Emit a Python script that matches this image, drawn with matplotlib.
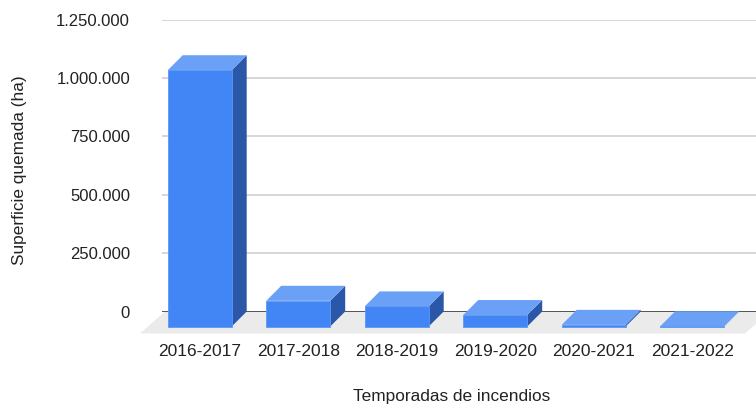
"""
Superficie quemada por temporada de incendios, barras con efecto 3D.
"""
import matplotlib
matplotlib.use("Agg")
import matplotlib.pyplot as plt
from matplotlib.patches import Polygon
from matplotlib.ticker import FuncFormatter

temporadas = ["2016-2017", "2017-2018", "2018-2019", "2019-2020", "2020-2021", "2021-2022"]
superficie_ha = [1097000, 110000, 86000, 49000, 7000, 1000]
yticks = [0, 250000, 500000, 750000, 1000000, 1250000]

FRONT = "#4285f4"
TOP = "#6aa0f6"
SIDE = "#2b57a8"
FLOOR = "#ebebeb"

W, H = 756, 412
plt.rcParams["font.family"] = ["Liberation Sans", "DejaVu Sans"]

fig = plt.figure(figsize=(W / 100, H / 100), dpi=100)
# plot area (back plane) in pixels
left_px, right_px, top_px, zero_px = 162, 756, 19.5, 311.5
ax = fig.add_axes([left_px / W, 1 - zero_px / H, (right_px - left_px) / W, (zero_px - top_px) / H])

cat0_px, cat_step = 214.7, 98.5
ax.set_xlim((left_px - cat0_px) / cat_step, (right_px - cat0_px) / cat_step)
ax.set_ylim(0, 1250000)
px_per_val = (zero_px - top_px) / 1250000

def dx(px):
    return px / cat_step

def dy(px):
    return px / px_per_val

depth = 15
bw = 64 / cat_step

for s in ax.spines.values():
    s.set_visible(False)
ax.set_yticks(yticks)
ax.yaxis.set_major_formatter(FuncFormatter(lambda v, p: f"{int(v):,}".replace(",", ".")))
ax.grid(axis="y", color="#cfcfcf", linewidth=1.2, zorder=0)
ax.tick_params(axis="y", length=0, pad=23, labelsize=12, labelcolor="#222222")

# floor
fl = Polygon([(dx(165 - cat0_px), 0), (dx(770 - cat0_px), 0),
              (dx(770 - cat0_px) - dx(25), -dy(22)), (dx(165 - cat0_px) - dx(25), -dy(22))],
             closed=True, facecolor=FLOOR, edgecolor="none", zorder=1, clip_on=False)
ax.add_patch(fl)
ax.axhline(0, color="#333333", linewidth=1.1, zorder=2)

for i, v in enumerate(superficie_ha):
    xl, xr = i - bw / 2, i + bw / 2
    ox, oy = dx(depth), dy(depth)
    side = Polygon([(xr - ox, -oy), (xr, 0), (xr, v), (xr - ox, v - oy)],
                   closed=True, facecolor=SIDE, edgecolor="none", zorder=3, clip_on=False)
    top = Polygon([(xl - ox, v - oy), (xr - ox, v - oy), (xr, v), (xl, v)],
                  closed=True, facecolor=TOP, edgecolor="none", zorder=3, clip_on=False)
    front = Polygon([(xl - ox, -oy), (xr - ox, -oy), (xr - ox, v - oy), (xl - ox, v - oy)],
                    closed=True, facecolor=FRONT, edgecolor="#5c97f5", linewidth=0.6,
                    zorder=4, clip_on=False)
    ax.add_patch(side)
    ax.add_patch(top)
    ax.add_patch(front)

ax.set_xticks([i - dx(depth) for i in range(len(temporadas))])
ax.set_xticklabels(temporadas)
ax.tick_params(axis="x", length=0, pad=23.5, labelsize=12.5, labelcolor="#222222")

fig.text(452 / W, 1 - 397 / H, "Temporadas de incendios", ha="center", va="center",
         fontsize=12.4, color="#222222")
fig.text(20 / W, 1 - 170 / H, "Superficie quemada (ha)", ha="center", va="center",
         rotation=90, fontsize=12.4, color="#222222")

fig.savefig("out.png", dpi=100)
